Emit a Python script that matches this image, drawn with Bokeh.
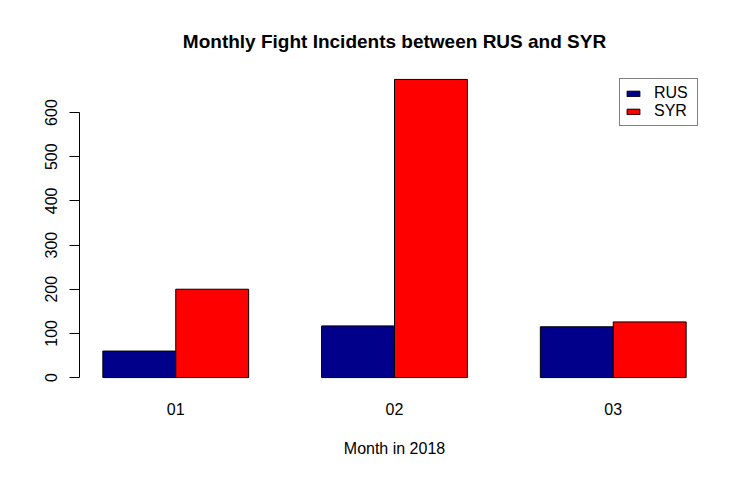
from bokeh.plotting import figure
from bokeh.models import (Range1d, FixedTicker, Legend, LegendItem, ColumnDataSource)
from bokeh.embed import file_html
from bokeh.resources import INLINE

months = ["01", "02", "03"]
rus = [60, 117, 115]
syr = [200, 675, 126]
y_ticks = [0, 100, 200, 300, 400, 500, 600]

FONT = "Liberation Sans"
n = len(months)
# R barplot(beside=TRUE) layout: bars of width 1, one-unit gap between groups
rus_x = [3 * i + 1.5 for i in range(n)]
syr_x = [3 * i + 2.5 for i in range(n)]
centers = [3 * i + 2 for i in range(n)]
x_lo, x_hi = 1, 3 * n
pad_x = 0.04 * (x_hi - x_lo)
ymax = max(max(rus), max(syr))

p = figure(width=741, height=470, output_backend="svg", toolbar_location=None,
           x_range=Range1d(x_lo - pad_x, x_hi + pad_x),
           y_range=Range1d(-0.04 * ymax, 1.04 * ymax),
           min_border_left=79, min_border_right=32, min_border_top=67,
           min_border_bottom=81)
p.outline_line_color = None
p.xgrid.visible = False
p.ygrid.visible = False
p.background_fill_color = "white"
p.border_fill_color = "white"

src_r = ColumnDataSource(dict(x=rus_x, top=rus))
src_s = ColumnDataSource(dict(x=syr_x, top=syr))
r1 = p.vbar(x="x", top="top", bottom=0, width=1, source=src_r,
            fill_color="#00008B", line_color="black", line_width=1)
r2 = p.vbar(x="x", top="top", bottom=0, width=1, source=src_s,
            fill_color="#FF0000", line_color="black", line_width=1)

# title
p.title.text = "Monthly Fight Incidents between RUS and SYR"
p.title.align = "center"
p.title.text_font = FONT
p.title.text_font_size = "19px"
p.title.text_font_style = "bold"
p.title.text_color = "black"
p.title.standoff = 31

# y axis
ya = p.yaxis[0]
ya.ticker = FixedTicker(ticks=y_ticks)
ya.bounds = (min(y_ticks), max(y_ticks))
ya.major_label_orientation = "vertical"
ya.major_tick_out = 10
ya.major_tick_in = 0
ya.minor_tick_out = 0
ya.minor_tick_in = 0
ya.major_label_standoff = 12
ya.major_label_text_font = FONT
ya.major_label_text_font_size = "16px"
ya.major_label_text_color = "black"
ya.axis_line_color = "black"
ya.major_tick_line_color = "black"

# x axis
xa = p.xaxis[0]
xa.ticker = FixedTicker(ticks=centers)
xa.major_label_overrides = {c: m for c, m in zip(centers, months)}
xa.axis_line_color = None
xa.major_tick_line_color = None
xa.minor_tick_line_color = None
xa.major_tick_out = 0
xa.major_label_standoff = 13
xa.major_label_text_font = FONT
xa.major_label_text_font_size = "16px"
xa.major_label_text_color = "black"
xa.axis_label = "Month in 2018"
xa.axis_label_text_font = FONT
xa.axis_label_text_font_size = "16px"
xa.axis_label_text_font_style = "normal"
xa.axis_label_text_color = "black"
xa.axis_label_standoff = 22

legend = Legend(items=[LegendItem(label="RUS", renderers=[r1]),
                       LegendItem(label="SYR", renderers=[r2])],
                location="top_right")
legend.border_line_color = "black"
legend.border_line_width = 1
legend.background_fill_color = "white"
legend.background_fill_alpha = 1
legend.label_text_font = FONT
legend.label_text_font_size = "16px"
legend.label_text_color = "black"
legend.glyph_height = 7
legend.glyph_width = 16
legend.label_standoff = 13
legend.label_width = 38
legend.padding = 5
legend.spacing = 0
legend.margin = 11
p.add_layout(legend, "center")

open("out.html", "w").write(file_html(p, INLINE))
